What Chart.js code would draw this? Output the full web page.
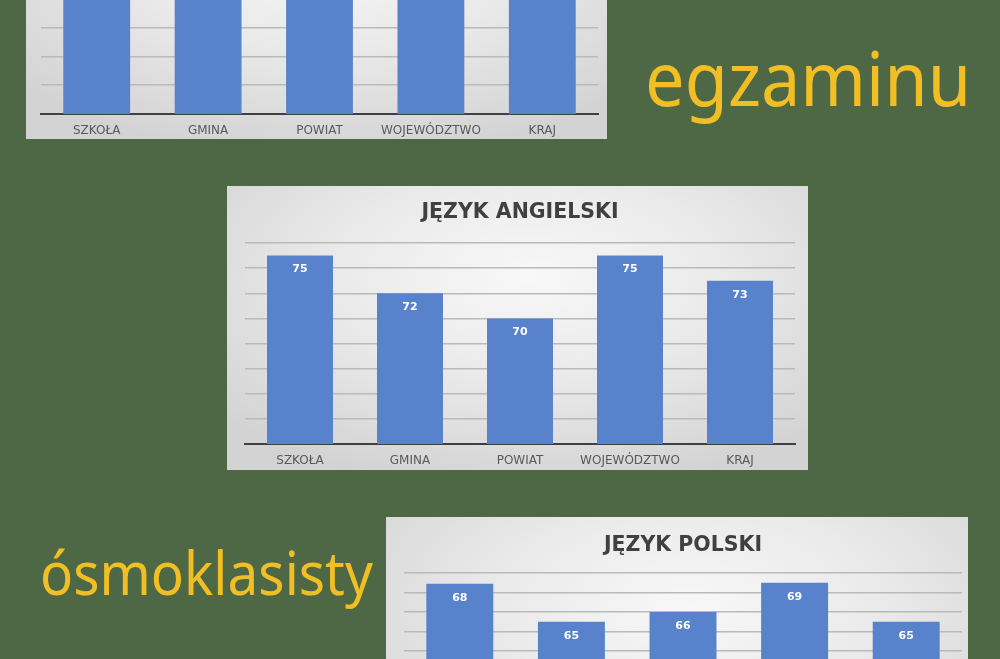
<!DOCTYPE html>
<html lang="pl">
<head>
    <meta charset="UTF-8">
    <title>Wyniki egzaminu ósmoklasisty</title>
    <script src="https://cdn.jsdelivr.net/npm/chart.js"></script>
    <style>
        body {
            margin: 0;
            width: 1000px;
            height: 659px;
            overflow: hidden;
            position: relative;
            background-color: #4e6846;
        }
        .panel {
            position: absolute;
            background: radial-gradient(ellipse 70% 75% at 52% 32%, #f8f8f8 0%, #e9e9e9 50%, #d3d3d3 100%);
        }
        .big {
            position: absolute;
            color: #f1bf24;
            font-family: "Noto Sans", sans-serif;
            line-height: 1;
            white-space: nowrap;
            transform-origin: left top;
        }
    </style>
</head>
<body>
    <div class="panel" style="left:26px; top:-145px; width:581px; height:284px;">
        <canvas id="mathChart" width="581" height="284"></canvas>
    </div>
    <div class="panel" style="left:227px; top:186px; width:581px; height:284px;">
        <canvas id="englishChart" width="581" height="284"></canvas>
    </div>
    <div class="panel" style="left:386px; top:517px; width:582px; height:284px;">
        <canvas id="polishChart" width="582" height="284"></canvas>
    </div>

    <div class="big" style="left:645px; top:41px; font-size:74px; transform:scaleX(0.95);">egzaminu</div>
    <div class="big" style="left:40px; top:542px; font-size:60px; transform:scaleX(0.915);">ósmoklasisty</div>

    <script>
        const categories = ['SZKOŁA', 'GMINA', 'POWIAT', 'WOJEWÓDZTWO', 'KRAJ'];

        // top chart is cut off by the slide edge - bar tops are not visible, values estimated
        const mathValues = [61, 55, 56, 58, 57];
        const englishValues = [75, 72, 70, 75, 73];
        const polishValues = [68.9, 65, 66, 69, 65];
        const polishText = ['68', '65', '66', '69', '65']; // labels as printed on the bars

        const mathRange = [30, 65, 5];
        const englishRange = [60, 76, 2];
        const polishRange = [50, 70, 2];

        // white value labels inside the top of each bar
        const valueLabels = {
            id: 'valueLabels',
            afterDatasetsDraw(chart) {
                const ds = chart.data.datasets[0];
                const texts = ds.valueText || ds.data.map(String);
                const ctx = chart.ctx;
                ctx.save();
                ctx.font = 'bold 11px "DejaVu Sans"';
                ctx.fillStyle = '#ffffff';
                ctx.textAlign = 'center';
                ctx.textBaseline = 'middle';
                chart.getDatasetMeta(0).data.forEach((bar, i) => {
                    ctx.fillText(texts[i], bar.x, bar.y + 14);
                });
                ctx.restore();
            }
        };

        function makeChart(id, values, range, opts) {
            const titleOpts = opts.title ? {
                display: true,
                text: opts.title,
                color: '#404040',
                font: { family: 'DejaVu Sans', size: 20.5, weight: 'bold' },
                padding: { top: opts.titleTop, bottom: opts.titleBottom }
            } : { display: false };

            return new Chart(document.getElementById(id), {
                type: 'bar',
                data: {
                    labels: categories,
                    datasets: [{
                        data: values,
                        valueText: opts.text,
                        backgroundColor: '#5883cc',
                        categoryPercentage: 1,
                        barPercentage: 0.6
                    }]
                },
                options: {
                    responsive: false,
                    animation: false,
                    layout: {
                        padding: { left: opts.left, right: opts.right, top: opts.top || 0, bottom: 0 }
                    },
                    plugins: {
                        legend: { display: false },
                        tooltip: { enabled: false },
                        title: titleOpts
                    },
                    scales: {
                        x: {
                            grid: { display: false, drawTicks: false },
                            border: { color: '#404040', width: 2 },
                            ticks: {
                                color: '#595959',
                                font: { family: 'DejaVu Sans', size: 12 },
                                padding: 10,
                                maxRotation: 0,
                                autoSkip: false
                            },
                            afterFit: s => { s.height = opts.xHeight; }
                        },
                        y: {
                            min: range[0],
                            max: range[1],
                            ticks: { stepSize: range[2], display: false },
                            grid: { color: '#bababa', lineWidth: 1.5, drawTicks: false },
                            border: { display: false },
                            afterFit: s => { s.width = 0; }
                        }
                    }
                },
                plugins: [valueLabels]
            });
        }

        makeChart('mathChart', mathValues, mathRange, {
            left: 15, right: 9, top: 57, xHeight: 25
        });
        makeChart('englishChart', englishValues, englishRange, {
            title: 'JĘZYK ANGIELSKI', titleTop: 14, titleBottom: 18.4,
            left: 18, right: 13, xHeight: 26
        });
        makeChart('polishChart', polishValues, polishRange, {
            title: 'JĘZYK POLSKI', titleTop: 16, titleBottom: 15.4,
            left: 18, right: 6, xHeight: 33, text: polishText
        });
    </script>
</body>
</html>
